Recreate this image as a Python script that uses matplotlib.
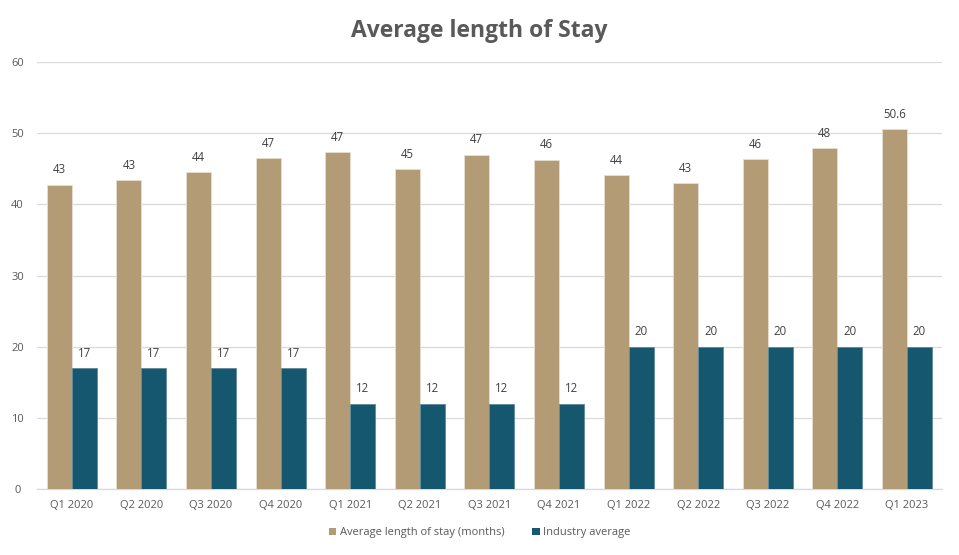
import matplotlib
matplotlib.use("Agg")
import matplotlib.pyplot as plt
import numpy as np
from matplotlib.patches import Patch

categories = ["Q1 2020", "Q2 2020", "Q3 2020", "Q4 2020", "Q1 2021", "Q2 2021", "Q3 2021",
              "Q4 2021", "Q1 2022", "Q2 2022", "Q3 2022", "Q4 2022", "Q1 2023"]
avg_stay = [42.8, 43.4, 44.5, 46.5, 47.3, 45.0, 47.0, 46.3, 44.15, 43.0, 46.35, 47.9, 50.6]
avg_stay_labels = ["43", "43", "44", "47", "47", "45", "47", "46", "44", "43", "46", "48", "50.6"]
industry = [17, 17, 17, 17, 12, 12, 12, 12, 20, 20, 20, 20, 20]
industry_labels = [str(v) for v in industry]
series_names = ["Average length of stay (months)", "Industry average"]
yticks = [0, 10, 20, 30, 40, 50, 60]

plt.rcParams['font.family'] = ['Open Sans', 'DejaVu Sans']
tan = "#B39B76"
teal = "#14576F"
txt = "#404040"
tick_col = "#595959"

fig = plt.figure(figsize=(9.59, 5.55), dpi=100)
ax = fig.add_axes([0.0386, 0.119, 0.9434, 0.769])

x = np.arange(len(categories))
w = 0.36
b1 = ax.bar(x - w / 2, avg_stay, w, color=tan, edgecolor="#E8DFD0", linewidth=0.6, zorder=3)
b2 = ax.bar(x + w / 2, industry, w, color=teal, edgecolor="#5E8A9A", linewidth=0.6, zorder=3)

for rect, lab in zip(b1, avg_stay_labels):
    ax.annotate(lab, (rect.get_x() + rect.get_width() / 2, rect.get_height()),
                xytext=(0, 6), textcoords="offset points", ha="center", va="bottom",
                fontsize=8.3, color=txt)
for rect, lab in zip(b2, industry_labels):
    ax.annotate(lab, (rect.get_x() + rect.get_width() / 2, rect.get_height()),
                xytext=(0, 6), textcoords="offset points", ha="center", va="bottom",
                fontsize=8.3, color=txt)

ax.set_xlim(-0.5, len(categories) - 0.5)
ax.set_ylim(0, 60)
ax.set_yticks(yticks)
ax.set_xticks(x)
ax.set_xticklabels(categories)
ax.grid(axis="y", color="#D9D9D9", linewidth=0.9, zorder=0)
ax.set_axisbelow(True)
for s in ["top", "right", "left"]:
    ax.spines[s].set_visible(False)
ax.spines["bottom"].set_color("#D9D9D9")
ax.spines["bottom"].set_linewidth(0.9)
ax.tick_params(axis="both", length=0, labelsize=8, colors=tick_col, pad=8)
ax.tick_params(axis="y", pad=14)
for lab in ax.get_yticklabels():
    lab.set_horizontalalignment("center")

fig.text(0.5, 0.945, "Average length of Stay", ha="center", va="center",
         fontsize=16.5, fontweight="bold", color="#595959")

handles = [Patch(facecolor=tan, edgecolor="none"), Patch(facecolor=teal, edgecolor="none")]
fig.legend(handles, series_names, loc="center", bbox_to_anchor=(0.5, 0.04), ncol=2,
           frameon=False, fontsize=8, handlelength=0.7, handleheight=0.7,
           handletextpad=0.3, columnspacing=2.5, labelcolor=tick_col)

fig.savefig("out.png", dpi=100, facecolor="white")
